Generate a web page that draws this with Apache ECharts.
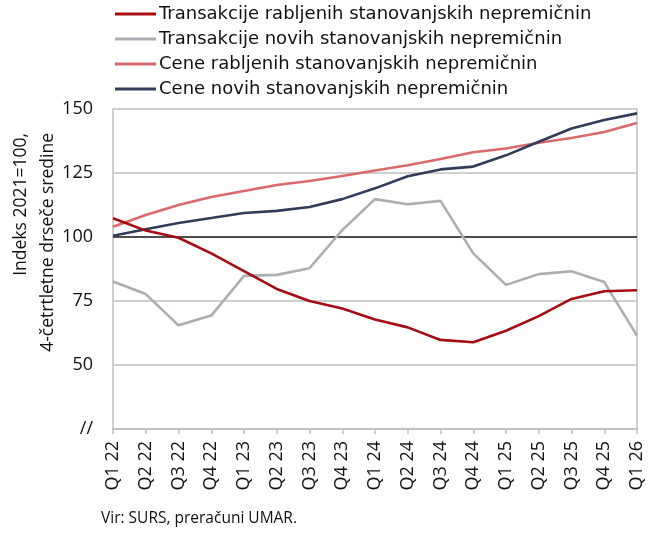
<!DOCTYPE html>
<html>
<head>
<meta charset="utf-8">
<script src="https://cdn.jsdelivr.net/npm/echarts@6/dist/echarts.min.js"></script>
<style>html,body{margin:0;padding:0;background:#fff}#c{width:650px;height:533px}</style>
</head>
<body>
<div id="c"></div>
<script>
const categories = ['Q1 22','Q2 22','Q3 22','Q4 22','Q1 23','Q2 23','Q3 23','Q4 23','Q1 24','Q2 24','Q3 24','Q4 24','Q1 25','Q2 25','Q3 25','Q4 25','Q1 26'];
const transRabljenih = [107.3,102.5,99.7,93.6,86.7,79.7,75.0,72.1,67.8,64.7,59.8,58.9,63.4,69.1,75.8,78.8,79.2];
const transNovih = [82.6,77.7,65.5,69.3,84.8,85.2,87.8,102.7,114.8,112.8,114.1,93.6,81.3,85.5,86.6,82.4,61.5];
const ceneRabljenih = [104.0,108.6,112.5,115.6,118.0,120.3,121.9,123.8,126.0,128.0,130.5,133.1,134.6,136.8,138.7,141.0,144.5];
const ceneNovih = [100.5,103.0,105.5,107.4,109.4,110.2,111.7,114.8,119.0,123.7,126.4,127.5,131.9,137.2,142.4,145.7,148.3];
const seriesNames = ['Transakcije rabljenih stanovanjskih nepremičnin','Transakcije novih stanovanjskih nepremičnin','Cene rabljenih stanovanjskih nepremičnin','Cene novih stanovanjskih nepremičnin'];
const yMin = 25, yMax = 150, yStep = 25;
const baseLine = 100;
const yName = 'Indeks 2021=100,\n4-četrtletne drseče sredine';
const sourceText = 'Vir: SURS, preračuni UMAR.';

const colors = ['#A50D12','#A9AEB3','#D9696B','#323B58'];
const font = '"Open Sans", Roboto, sans-serif';
const legendFont = '"DejaVu Sans", "Open Sans", sans-serif';
const chart = echarts.init(document.getElementById('c'));
const mk = (name, data, color, extra) => Object.assign({
  name, type:'line', data, symbol:'none', smooth:false,
  lineStyle:{color, width:2.6}, itemStyle:{color}, z:3
}, extra||{});
chart.setOption({
  animation:false,
  textStyle:{fontFamily:font},
  legend:{
    orient:'vertical', left:110, top:0, itemWidth:41, itemHeight:3, itemGap:7,
    icon:'rect', data:seriesNames,
    textStyle:{fontSize:18, color:'#111', fontFamily:legendFont, padding:[0,0,0,-2]}
  },
  grid:{left:113, right:13, top:109, bottom:104, containLabel:false, outerBoundsMode:'none'},
  xAxis:{
    type:'category', data:categories, boundaryGap:false,
    axisLine:{lineStyle:{color:'#BFBFBF', width:1.5}},
    axisTick:{show:true, length:5, lineStyle:{color:'#BFBFBF', width:1.5}},
    axisLabel:{rotate:90, fontSize:18, color:'#111', margin:12, interval:0}
  },
  yAxis:[{
    type:'value', min:yMin, max:yMax, interval:yStep,
    axisLine:{show:true, lineStyle:{color:'#BFBFBF', width:1.5}},
    axisTick:{show:false},
    axisLabel:{fontSize:18, color:'#111', margin:20,
      formatter:v => v===yMin ? '//' : String(v)},
    splitLine:{show:true, lineStyle:{color:'#BFBFBF', width:1.5}}
  },{
    type:'value', min:yMin, max:yMax, interval:yStep, position:'right',
    axisLine:{show:true, lineStyle:{color:'#BFBFBF', width:1.5}},
    axisTick:{show:false}, axisLabel:{show:false}, splitLine:{show:false}
  }],
  graphic:[
    {type:'text', left:101, top:511, style:{text:sourceText, fontSize:15.5, fill:'#111', fontFamily:font}},
    {type:'text', x:8, y:133, rotation:Math.PI/2,
      style:{text:yName, fontSize:17.5, lineHeight:27, fill:'#111', fontFamily:font, align:'right', verticalAlign:'top'}}
  ],
  series:[
    mk(seriesNames[0], transRabljenih, colors[0], {z:5, markLine:{silent:true, symbol:'none', label:{show:false},
      lineStyle:{color:'#222', width:1.5, type:'solid'}, data:[{yAxis:baseLine}], z:2}}),
    mk(seriesNames[1], transNovih, colors[1]),
    mk(seriesNames[2], ceneRabljenih, colors[2]),
    mk(seriesNames[3], ceneNovih, colors[3], {z:4})
  ]
});
</script>
</body>
</html>
